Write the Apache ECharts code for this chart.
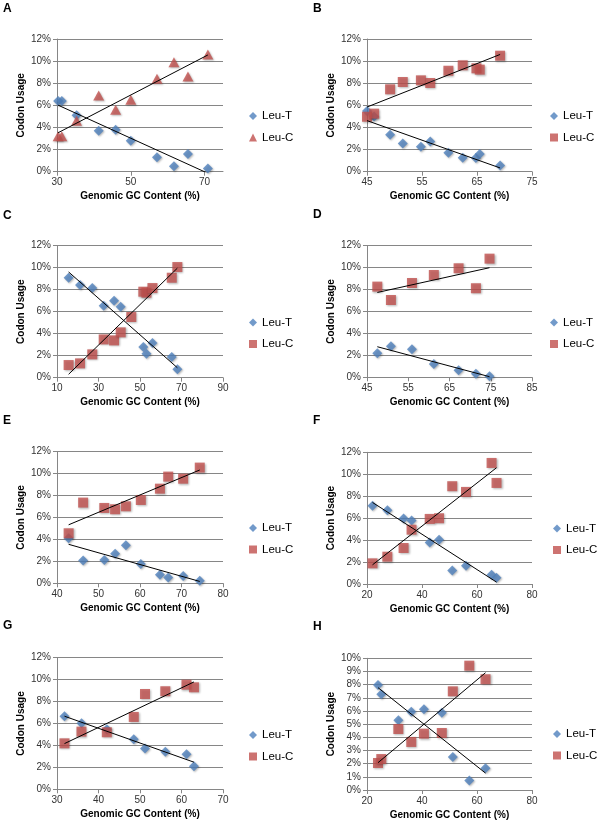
<!DOCTYPE html>
<html>
<head>
<meta charset="utf-8">
<script src="https://cdn.jsdelivr.net/npm/echarts@6/dist/echarts.min.js"></script>
<style>
html,body{margin:0;padding:0;background:#fff;}
#chart{width:602px;height:825px;}
</style>
</head>
<body>
<div id="chart"></div>
<script>
// ---------- DATA ----------
const panelLabels = ['A', 'B', 'C', 'D', 'E', 'F', 'G', 'H'];
const seriesNames = ['Leu-T', 'Leu-C'];
const xAxisTitle = 'Genomic GC Content (%)';
const yAxisTitle = 'Codon Usage';

// Panel A
const aGC   = [30.3, 31.3, 35.3, 41.3, 45.9, 50.0, 57.1, 61.7, 65.5, 70.9];
const aLeuT = [6.4, 6.4, 5.1, 3.7, 3.8, 2.8, 1.3, 0.5, 1.6, 0.3];
const aLeuC = [3.2, 3.2, 4.6, 6.9, 5.6, 6.5, 8.4, 9.9, 8.6, 10.6];
// Panel B
const bGCT  = [45.0, 46.3, 49.2, 51.5, 54.8, 56.5, 59.8, 62.4, 64.8, 65.5, 69.2];
const bLeuT = [5.5, 5.0, 3.35, 2.56, 2.26, 2.74, 1.72, 1.27, 1.24, 1.6, 0.57];
const bGCC  = [45.0, 46.3, 49.2, 51.5, 54.8, 56.5, 59.8, 62.4, 64.9, 65.5, 69.2];
const bLeuC = [4.97, 5.25, 7.45, 8.11, 8.26, 8.02, 9.13, 9.62, 9.35, 9.23, 10.49];
// Panel C
const cGCT  = [15.6, 21.1, 27.0, 32.5, 37.5, 40.7, 51.6, 53.1, 56.0, 65.3, 68.0];
const cLeuT = [9.09, 8.42, 8.15, 6.55, 7.0, 6.45, 2.79, 2.18, 3.15, 1.88, 0.76];
const cGCC  = [15.6, 21.1, 27.0, 32.5, 37.5, 40.7, 45.8, 51.6, 53.1, 56.0, 65.3, 68.0];
const cLeuC = [1.15, 1.30, 2.12, 3.48, 3.39, 4.12, 5.52, 7.82, 7.73, 8.15, 9.09, 10.06];
// Panel D
const dGC   = [47.5, 50.8, 55.9, 61.2, 67.2, 71.4, 74.7];
const dLeuT = [2.19, 2.83, 2.55, 1.22, 0.64, 0.33, 0.09];
const dLeuC = [8.27, 7.05, 8.6, 9.33, 9.94, 8.12, 10.82];
// Panel E
const eGC   = [42.8, 46.3, 51.4, 54.0, 56.6, 60.2, 64.8, 66.8, 70.4, 74.4];
const eLeuT = [4.1, 2.07, 2.13, 2.70, 3.46, 1.76, 0.79, 0.52, 0.67, 0.24];
const eLeuC = [4.56, 7.36, 6.87, 6.75, 7.02, 7.6, 8.63, 9.73, 9.54, 10.55];
// Panel F
const fGC   = [22.0, 27.4, 33.3, 36.2, 42.8, 46.2, 51.0, 56.0, 65.3, 67.1];
const fLeuT = [7.14, 6.72, 5.96, 5.78, 3.77, 4.04, 1.22, 1.67, 0.85, 0.58];
const fLeuC = [1.88, 2.49, 3.28, 4.95, 5.93, 5.99, 8.91, 8.39, 11.03, 9.21];
// Panel G
const gGC   = [31.8, 35.9, 42.0, 48.5, 51.2, 56.1, 61.2, 63.0];
const gLeuT = [6.66, 6.02, 5.47, 4.56, 3.71, 3.43, 3.19, 2.10];
const gLeuC = [4.19, 5.26, 5.2, 6.6, 8.69, 8.94, 9.54, 9.3];
// Panel H
const hGC   = [24.0, 25.2, 31.4, 36.1, 40.7, 47.2, 51.2, 57.2, 63.1];
const hLeuT = [7.97, 7.27, 5.29, 5.95, 6.13, 5.87, 2.51, 0.73, 1.65];
const hLeuC = [2.05, 2.35, 4.63, 3.65, 4.28, 4.33, 7.49, 9.44, 8.41];

// Axis tick settings per panel (A..H)
const xMins      = [30, 45, 10, 45, 40, 20, 30, 20];
const xMaxs      = [75, 75, 90, 85, 80, 80, 70, 80];
const xIntervals = [20, 10, 20, 10, 10, 20, 10, 20];
const yMaxs      = [12, 12, 12, 12, 12, 12, 12, 10];
const yIntervals = [2, 2, 2, 2, 2, 2, 2, 1];

// ---------- LAYOUT / STYLE ----------
const panels = [
  {tx: aGC,  ty: aLeuT, cx: aGC,  cy: aLeuC, cIcon: 'triangle'},
  {tx: bGCT, ty: bLeuT, cx: bGCC, cy: bLeuC, cIcon: 'rect'},
  {tx: cGCT, ty: cLeuT, cx: cGCC, cy: cLeuC, cIcon: 'rect'},
  {tx: dGC,  ty: dLeuT, cx: dGC,  cy: dLeuC, cIcon: 'rect'},
  {tx: eGC,  ty: eLeuT, cx: eGC,  cy: eLeuC, cIcon: 'rect'},
  {tx: fGC,  ty: fLeuT, cx: fGC,  cy: fLeuC, cIcon: 'rect'},
  {tx: gGC,  ty: gLeuT, cx: gGC,  cy: gLeuC, cIcon: 'rect'},
  {tx: hGC,  ty: hLeuT, cx: hGC,  cy: hLeuC, cIcon: 'rect'}
];
const gridRects = [
  {left: 57,  top: 39,    width: 166, height: 132.7},
  {left: 367, top: 39,    width: 165, height: 132.7},
  {left: 57,  top: 245.7, width: 166, height: 132},
  {left: 367, top: 245.7, width: 165, height: 131.6},
  {left: 57,  top: 451.7, width: 166, height: 131.6},
  {left: 367, top: 452.3, width: 165, height: 131.7},
  {left: 57,  top: 657.7, width: 166, height: 131.6},
  {left: 367, top: 658.3, width: 165, height: 131.7}
];
const legendPos = [
  {left: 244, top: 104.5}, {left: 545, top: 104.5},
  {left: 244, top: 311},   {left: 545, top: 311},
  {left: 244, top: 516.5}, {left: 548, top: 517},
  {left: 244, top: 723.5}, {left: 548, top: 722.5}
];
const labelPos = [
  {x: 3, y: 3}, {x: 313, y: 3},
  {x: 3, y: 210}, {x: 313, y: 209},
  {x: 3, y: 415}, {x: 313, y: 415},
  {x: 3, y: 620}, {x: 313, y: 621}
];

const BLUE = '#4F81BD', RED = '#C0504D', AXIS = '#868686';
const FONT = '"Liberation Sans", Arial, sans-serif';

function linReg(xs, ys) {
  const n = xs.length;
  let sx = 0, sy = 0;
  for (let i = 0; i < n; i++) { sx += xs[i]; sy += ys[i]; }
  const mx = sx / n, my = sy / n;
  let sxx = 0, sxy = 0;
  for (let i = 0; i < n; i++) { sxx += (xs[i]-mx)*(xs[i]-mx); sxy += (xs[i]-mx)*(ys[i]-my); }
  const b = sxy / sxx, a = my - b*mx;
  const x0 = Math.min(...xs), x1 = Math.max(...xs);
  return [[x0, a + b*x0], [x1, a + b*x1]];
}
function pairs(xs, ys) { return xs.map((x, i) => [x, ys[i]]); }

const grid = [], xAxis = [], yAxis = [], series = [], legend = [], graphic = [];
panels.forEach((p, i) => {
  grid.push(Object.assign({containLabel: false}, gridRects[i]));
  xAxis.push({
    type: 'value', gridIndex: i, min: xMins[i], max: xMaxs[i], interval: xIntervals[i],
    name: xAxisTitle, nameLocation: 'middle', nameGap: 20,
    nameTextStyle: {fontFamily: FONT, fontSize: 10, fontWeight: 'bold', color: '#000'},
    axisLine: {show: true, onZero: false, lineStyle: {color: AXIS, width: 1}},
    axisTick: {show: true, length: 4, lineStyle: {color: AXIS}},
    axisLabel: {fontFamily: FONT, fontSize: 10, color: '#333', margin: 6,
                showMaxLabel: ((xMaxs[i] - xMins[i]) % xIntervals[i] === 0)},
    splitLine: {show: false}
  });
  yAxis.push({
    type: 'value', gridIndex: i, min: 0, max: yMaxs[i], interval: yIntervals[i],
    name: yAxisTitle, nameLocation: 'middle', nameGap: 31,
    nameTextStyle: {fontFamily: FONT, fontSize: 10, fontWeight: 'bold', color: '#000'},
    axisLine: {show: true, lineStyle: {color: AXIS, width: 1}},
    axisTick: {show: true, length: 4, lineStyle: {color: AXIS}},
    axisLabel: {fontFamily: FONT, fontSize: 10, color: '#333', margin: 6, formatter: v => v + '%'},
    splitLine: {show: true, lineStyle: {color: AXIS, width: 1}}
  });
  const shadow = {shadowBlur: 2, shadowColor: 'rgba(0,0,0,0.35)', shadowOffsetX: 1, shadowOffsetY: 1};
  series.push({
    name: seriesNames[0], type: 'scatter', xAxisIndex: i, yAxisIndex: i,
    symbol: 'diamond', symbolSize: 10, data: pairs(p.tx, p.ty),
    itemStyle: Object.assign({color: BLUE}, shadow), silent: true
  });
  series.push({
    name: seriesNames[1], type: 'scatter', xAxisIndex: i, yAxisIndex: i,
    symbol: p.cIcon, symbolSize: p.cIcon === 'triangle' ? [11, 10] : 10, data: pairs(p.cx, p.cy),
    itemStyle: Object.assign({color: RED}, shadow), silent: true
  });
  series.push({
    name: 'trendT' + i, type: 'line', xAxisIndex: i, yAxisIndex: i, data: linReg(p.tx, p.ty),
    symbol: 'none', lineStyle: {color: '#000', width: 1}, silent: true, clip: true, z: 3
  });
  series.push({
    name: 'trendC' + i, type: 'line', xAxisIndex: i, yAxisIndex: i, data: linReg(p.cx, p.cy),
    symbol: 'none', lineStyle: {color: '#000', width: 1}, silent: true, clip: true, z: 3
  });
  legend.push({
    left: legendPos[i].left, top: legendPos[i].top, orient: 'vertical',
    itemWidth: 8, itemHeight: 8, itemGap: 8.5, selectedMode: false,
    textStyle: {fontFamily: FONT, fontSize: 11.5, color: '#000', lineHeight: 13},
    data: [{name: seriesNames[0], icon: 'diamond'}, {name: seriesNames[1], icon: p.cIcon}]
  });
  graphic.push({
    type: 'text', left: labelPos[i].x, top: labelPos[i].y,
    style: {text: panelLabels[i], font: 'bold 12px ' + FONT, fill: '#000'}
  });
});

const chart = echarts.init(document.getElementById('chart'), null, {renderer: 'canvas'});
chart.setOption({
  animation: false,
  backgroundColor: '#fff',
  grid, xAxis, yAxis, series, legend, graphic
});
</script>
</body>
</html>
